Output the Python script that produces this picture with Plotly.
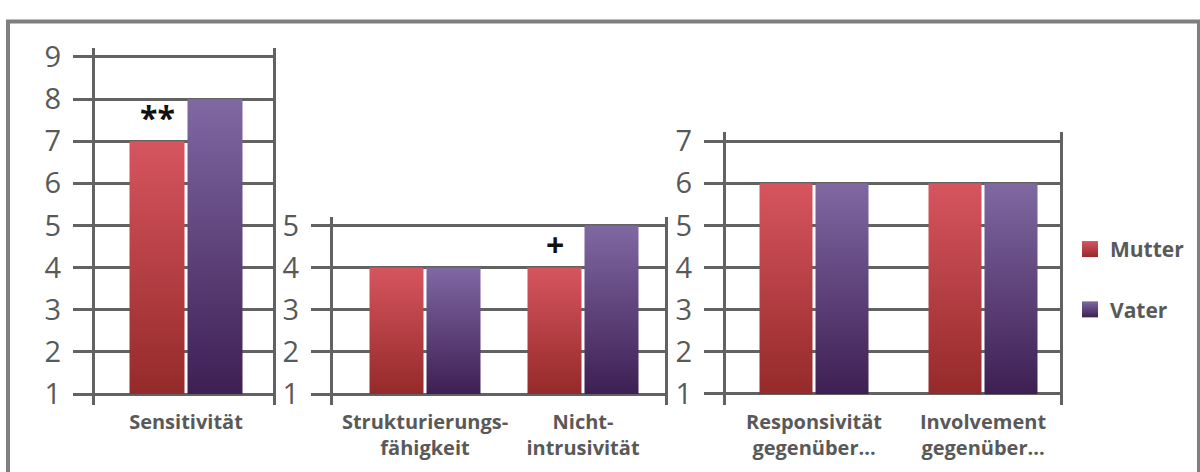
import plotly.graph_objects as go

W, H = 1200, 472

# ---------------- data ----------------
series_names = ["Mutter", "Vater"]

panel1_categories = ["Sensitivität"]
panel1_mutter = [7]
panel1_vater = [8]
panel1_marks = ["**"]
panel1_yticks = [1, 2, 3, 4, 5, 6, 7, 8, 9]

panel2_categories = ["Strukturierungs-<br>fähigkeit", "Nicht-<br>intrusivität"]
panel2_mutter = [4, 4]
panel2_vater = [4, 5]
panel2_marks = ["", "+"]
panel2_yticks = [1, 2, 3, 4, 5]

panel3_categories = ["Responsivität<br>gegenüber...", "Involvement<br>gegenüber..."]
panel3_mutter = [6, 6]
panel3_vater = [6, 6]
panel3_marks = ["", ""]
panel3_yticks = [1, 2, 3, 4, 5, 6, 7]

# ---------------- style ----------------
MUTTER_TOP, MUTTER_BOTTOM = "#d6555e", "#952a2a"
VATER_TOP, VATER_BOTTOM = "#8068a2", "#3d1f53"
LINE_COLOR = "#626262"
TEXT_COLOR = "#595959"
FONT = "Open Sans"
PXU = 43.9          # pixels per y unit
BOTTOM_PX = 409     # bottom of the plotting areas
Y_LO_PAD, Y_HI_PAD = 0.25, 0.21

# panel geometry in pixels: left, right, centre of first category, category spacing, bar width, bar gap
panels = [
    dict(cats=panel1_categories, m=panel1_mutter, v=panel1_vater, marks=panel1_marks,
         yt=panel1_yticks, left=95, right=273, c0=186, unit=178, bw=55, gap=3),
    dict(cats=panel2_categories, m=panel2_mutter, v=panel2_vater, marks=panel2_marks,
         yt=panel2_yticks, left=333, right=665, c0=425, unit=158, bw=54, gap=3),
    dict(cats=panel3_categories, m=panel3_mutter, v=panel3_vater, marks=panel3_marks,
         yt=panel3_yticks, left=726, right=1060, c0=814, unit=169, bw=53, gap=3),
]

fig = go.Figure()
annotations = []

for k, p in enumerate(panels, start=1):
    xs = "" if k == 1 else str(k)
    xref, yref = "x" + xs, "y" + xs
    w = p["bw"] / p["unit"]
    g = p["gap"] / p["unit"]
    off = (w + g) / 2
    base = p["yt"][0]
    for i, cat in enumerate(p["cats"]):
        for vals, sign, top, bottom, name in [
            (p["m"], -1, MUTTER_TOP, MUTTER_BOTTOM, series_names[0]),
            (p["v"], 1, VATER_TOP, VATER_BOTTOM, series_names[1]),
        ]:
            xc = i + sign * off
            val = vals[i]
            fig.add_trace(go.Scatter(
                x=[xc - w / 2, xc - w / 2, xc + w / 2, xc + w / 2, xc - w / 2],
                y=[base, val, val, base, base],
                xaxis=xref, yaxis=yref,
                mode="lines", fill="toself",
                line=dict(width=0, color="rgba(0,0,0,0)"),
                fillgradient=dict(type="vertical",
                                  colorscale=[[0, bottom], [1, top]]),
                name=name, showlegend=False,
                hoverinfo="text", text=f"{cat.replace('<br>', ' ')} – {name}: {val}",
            ))
        if p["marks"][i]:
            annotations.append(dict(
                x=i - off, y=p["m"][i], xref=xref, yref=yref,
                text=p["marks"][i], showarrow=False, yanchor="bottom",
                font=dict(family=FONT, size=32, color="#111111", weight="bold"),
            ))

    y_lo = base - Y_LO_PAD
    y_hi = p["yt"][-1] + Y_HI_PAD
    top_px = BOTTOM_PX - (y_hi - y_lo) * PXU
    n = len(p["cats"])
    x_lo = -(p["c0"] - p["left"]) / p["unit"]
    x_hi = (p["right"] - p["c0"]) / p["unit"]

    fig.update_layout({
        ("xaxis" + xs): dict(
            domain=[p["left"] / W, p["right"] / W], anchor=yref,
            range=[x_lo, x_hi], showgrid=False, zeroline=False, showline=False,
            tickmode="array", tickvals=list(range(n)), ticktext=p["cats"], ticks="",
            tickfont=dict(family=FONT, size=20, color=TEXT_COLOR, weight="bold"),
            ticklabelstandoff=3,
            fixedrange=True,
        ),
        ("yaxis" + xs): dict(
            domain=[1 - BOTTOM_PX / H, 1 - top_px / H], anchor=xref,
            range=[y_lo, y_hi], tickmode="array", tickvals=p["yt"],
            ticktext=[str(t) for t in p["yt"]],
            showgrid=True, gridcolor=LINE_COLOR, gridwidth=2.5,
            zeroline=False, showline=True, linecolor=LINE_COLOR, linewidth=3,
            mirror=True, ticks="outside", ticklen=19, tickwidth=2.5,
            tickcolor=LINE_COLOR, ticklabelstandoff=6,
            tickfont=dict(family=FONT, size=29, color=TEXT_COLOR),
            fixedrange=True,
        ),
    })

# legend entries
for name, top, bottom in [(series_names[0], MUTTER_TOP, MUTTER_BOTTOM),
                          (series_names[1], VATER_TOP, VATER_BOTTOM)]:
    fig.add_trace(go.Scatter(
        x=[None], y=[None], xaxis="x3", yaxis="y3", mode="markers", name=name,
        legendgroup=name,
        marker=dict(symbol="square", size=16, color=top,
                    gradient=dict(type="vertical", color=bottom)),
    ))

fig.update_layout(
    width=W, height=H, margin=dict(l=0, r=0, t=0, b=0),
    paper_bgcolor="white", plot_bgcolor="white",
    annotations=annotations,
    showlegend=True,
    legend=dict(x=1070 / W, xanchor="left", y=1 - 226 / H, yanchor="top",
                font=dict(family=FONT, size=21, color=TEXT_COLOR, weight="bold"),
                tracegroupgap=30, bgcolor="rgba(0,0,0,0)"),
    shapes=[dict(type="rect", xref="paper", yref="paper",
                 x0=8 / W, x1=1199 / W, y0=-0.2, y1=1 - 10 / H,
                 line=dict(color="#7f7f7f", width=4), layer="above")],
)

fig.write_html("out.html")
